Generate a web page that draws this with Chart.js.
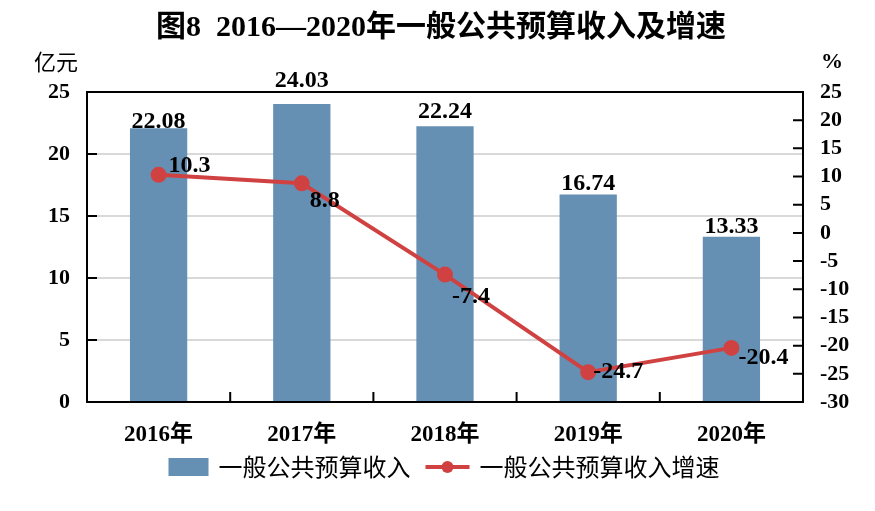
<!DOCTYPE html>
<html>
<head>
<meta charset="utf-8">
<script src="https://cdn.jsdelivr.net/npm/chart.js@4/dist/chart.umd.min.js"></script>
<style>
  html, body { margin: 0; padding: 0; background: #fff; }
  #box { width: 875px; height: 511px; }
</style>
</head>
<body>
<div id="box"><canvas id="chart"></canvas></div>
<script>
// data
const years = ['2016年', '2017年', '2018年', '2019年', '2020年'];
const revenue = [22.08, 24.03, 22.24, 16.74, 13.33];   // 亿元
const growth = [10.3, 8.8, -7.4, -24.7, -20.4];        // %
const revenueName = '一般公共预算收入';
const growthName = '一般公共预算收入增速';

const BAR = '#6590b4';
const RED = '#d04242';
const FONT = '"Liberation Serif", "Times New Roman", "Noto Sans CJK SC", serif';

// label nudges (px) so the numbers sit where the original puts them
const barLabelLift = [0, 17, 8, 4, 4];
const lineLabelShift = [[10, -9], [8, 17], [7, 22], [5, 0], [7, 10]];

const extras = {
    id: 'extras',
    beforeDatasetsDraw(chart) {
        const { ctx, chartArea: a } = chart;
        ctx.save();
        ctx.strokeStyle = '#000';
        ctx.lineWidth = 2;
        ctx.beginPath();
        ctx.moveTo(a.left - 1, a.top);
        ctx.lineTo(a.right + 1, a.top);
        ctx.stroke();
        ctx.restore();
    },
    afterDatasetsDraw(chart) {
        const { ctx, chartArea: a, scales } = chart;
        ctx.save();

        // inward tick marks
        ctx.strokeStyle = '#000';
        ctx.lineWidth = 2;
        ctx.beginPath();
        scales.y.ticks.forEach(t => {
            if (t.value <= 0 || t.value >= 25) return;
            const y = scales.y.getPixelForValue(t.value);
            ctx.moveTo(a.left, y); ctx.lineTo(a.left + 10, y);
        });
        scales.y1.ticks.forEach(t => {
            if (t.value <= -30 || t.value >= 25) return;
            const y = scales.y1.getPixelForValue(t.value);
            ctx.moveTo(a.right, y); ctx.lineTo(a.right - 10, y);
        });
        for (let i = 0; i < years.length - 1; i++) {
            const x = (scales.x.getPixelForValue(i) + scales.x.getPixelForValue(i + 1)) / 2;
            ctx.moveTo(x, a.bottom); ctx.lineTo(x, a.bottom - 10);
        }
        ctx.stroke();

        // data labels
        ctx.fillStyle = '#000';
        ctx.font = 'bold 24px ' + FONT;
        ctx.textAlign = 'center';
        ctx.textBaseline = 'alphabetic';
        chart.getDatasetMeta(0).data.forEach((bar, i) => {
            ctx.fillText(revenue[i].toFixed(2), bar.x, bar.y - barLabelLift[i]);
        });
        ctx.textAlign = 'left';
        ctx.textBaseline = 'middle';
        chart.getDatasetMeta(1).data.forEach((pt, i) => {
            const [dx, dy] = lineLabelShift[i];
            ctx.fillText(String(growth[i]), pt.x + dx, pt.y + dy);
        });

        // title and units
        ctx.textAlign = 'center';
        ctx.font = 'bold 30px ' + FONT;
        ctx.fillText('图8  2016—2020年一般公共预算收入及增速', 441, 28);
        ctx.font = '22px "Noto Sans CJK SC", ' + FONT;
        ctx.fillText('亿元', 56, 62);
        ctx.font = 'bold 22px ' + FONT;
        ctx.fillText('%', 832, 62);

        // legend
        ctx.font = '24px "Noto Sans CJK SC", ' + FONT;
        ctx.textAlign = 'left';
        const w1 = ctx.measureText(revenueName).width;
        const w2 = ctx.measureText(growthName).width;
        const total = 40 + 10 + w1 + 15 + 44 + 10 + w2;
        let x = 444 - total / 2;
        const ly = 467;
        ctx.fillStyle = BAR;
        ctx.fillRect(x, ly - 9, 40, 18);
        x += 50;
        ctx.fillStyle = '#000';
        ctx.fillText(revenueName, x, ly);
        x += w1 + 15;
        ctx.strokeStyle = RED;
        ctx.lineWidth = 4;
        ctx.beginPath();
        ctx.moveTo(x, ly); ctx.lineTo(x + 44, ly);
        ctx.stroke();
        ctx.fillStyle = RED;
        ctx.beginPath();
        ctx.arc(x + 22, ly, 6, 0, Math.PI * 2);
        ctx.fill();
        x += 54;
        ctx.fillStyle = '#000';
        ctx.fillText(growthName, x, ly);

        ctx.restore();
    }
};

new Chart(document.getElementById('chart'), {
    data: {
        labels: years,
        datasets: [
            {
                type: 'bar',
                label: revenueName,
                data: revenue,
                backgroundColor: BAR,
                barPercentage: 0.4,
                categoryPercentage: 1,
                yAxisID: 'y',
                order: 2
            },
            {
                type: 'line',
                label: growthName,
                data: growth,
                borderColor: RED,
                backgroundColor: RED,
                borderWidth: 4,
                pointRadius: 6,
                pointHoverRadius: 6,
                tension: 0,
                yAxisID: 'y1',
                order: 1
            }
        ]
    },
    options: {
        responsive: true,
        maintainAspectRatio: false,
        animation: false,
        layout: { padding: { top: 92, bottom: 59, left: 0, right: 0 } },
        plugins: {
            legend: { display: false },
            title: { display: false },
            tooltip: { enabled: false }
        },
        scales: {
            x: {
                grid: { display: false },
                border: { color: '#000', width: 2 },
                ticks: { color: '#000', padding: 11, font: { family: FONT, size: 23, weight: 'bold' } },
                afterFit(s) { s.height = 50; }
            },
            y: {
                position: 'left',
                min: 0, max: 25,
                ticks: { stepSize: 5, color: '#000', padding: 17, font: { family: FONT, size: 22, weight: 'bold' } },
                grid: { color: '#d9d9d9', lineWidth: 2, drawTicks: false },
                border: { color: '#000', width: 2 },
                afterFit(s) { s.width = 87; }
            },
            y1: {
                position: 'right',
                min: -30, max: 25,
                ticks: { stepSize: 5, autoSkip: false, color: '#000', padding: 17, font: { family: FONT, size: 22, weight: 'bold' } },
                grid: { drawOnChartArea: false, drawTicks: false },
                border: { color: '#000', width: 2 },
                afterFit(s) { s.width = 72; }
            }
        }
    },
    plugins: [extras]
});
</script>
</body>
</html>
